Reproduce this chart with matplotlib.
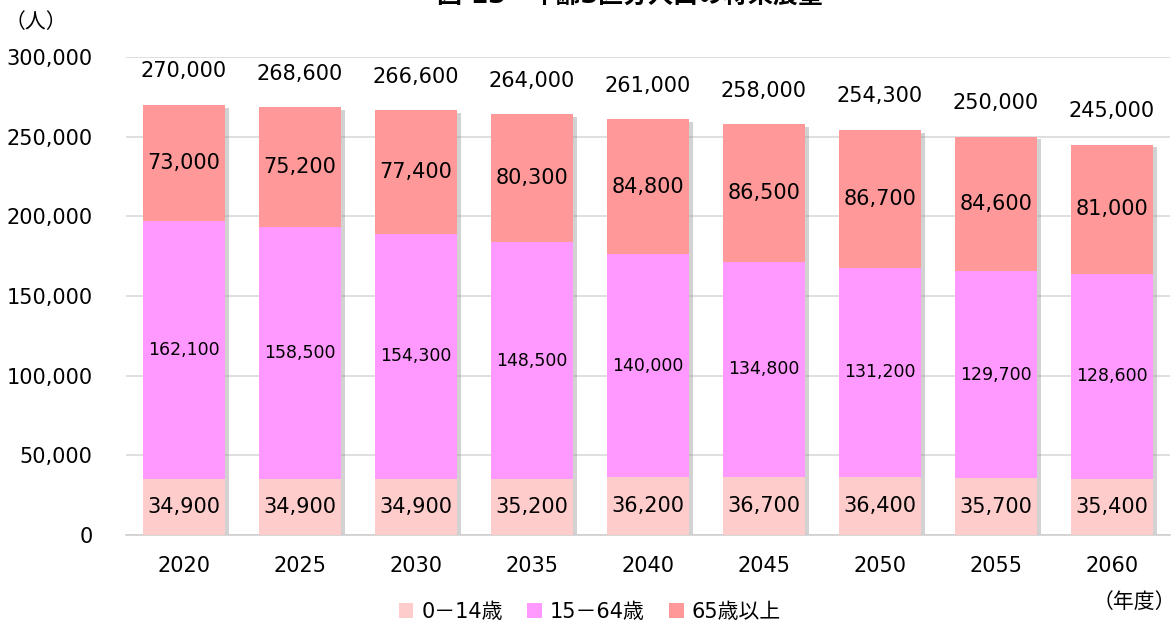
import matplotlib
matplotlib.use("Agg")
import matplotlib.pyplot as plt
import matplotlib.patheffects as pe
from matplotlib.patches import Patch
from matplotlib.ticker import FuncFormatter

plt.rcParams['font.family'] = ['DejaVu Sans', 'Noto Sans CJK JP']

years = ['2020', '2025', '2030', '2035', '2040', '2045', '2050', '2055', '2060']
age_0_14 = [34900, 34900, 34900, 35200, 36200, 36700, 36400, 35700, 35400]
age_15_64 = [162100, 158500, 154300, 148500, 140000, 134800, 131200, 129700, 128600]
age_65_plus = [73000, 75200, 77400, 80300, 84800, 86500, 86700, 84600, 81000]
totals = [270000, 268600, 266600, 264000, 261000, 258000, 254300, 250000, 245000]
series_names = ['0－14歳', '15－64歳', '65歳以上']
colors = ['#FFCCCC', '#FF99FF', '#FF9999']

fig = plt.figure(figsize=(11.74, 6.26), dpi=100)
ax = fig.add_axes([0.1073, 0.1454, 0.8893, 0.7636])

x = list(range(len(years)))
w = 0.71

# shadow bar
ax.bar(x, totals, width=w, color='white', zorder=2,
       path_effects=[pe.SimplePatchShadow(offset=(3, -2), shadow_rgbFace='#909090', alpha=0.4), pe.Normal()])

ax.bar(x, age_0_14, width=w, color=colors[0], zorder=3)
bottom2 = age_0_14
ax.bar(x, age_15_64, width=w, bottom=bottom2, color=colors[1], zorder=3)
bottom3 = [a + b for a, b in zip(age_0_14, age_15_64)]
ax.bar(x, age_65_plus, width=w, bottom=bottom3, color=colors[2], zorder=3)

for i in x:
    ax.text(i, age_0_14[i] / 2, f"{age_0_14[i]:,}", ha='center', va='center', fontsize=15, zorder=5)
    ax.text(i, bottom2[i] + age_15_64[i] / 2, f"{age_15_64[i]:,}", ha='center', va='center', fontsize=12.5, zorder=5)
    ax.text(i, bottom3[i] + age_65_plus[i] / 2, f"{age_65_plus[i]:,}", ha='center', va='center', fontsize=15, zorder=5)
    ax.annotate(f"{totals[i]:,}", (i, totals[i]), xytext=(0, 24), textcoords='offset points',
                ha='center', va='center', fontsize=15, zorder=5)

ax.set_xlim(-0.5, len(years) - 0.5)
ax.set_ylim(0, 300000)
ax.set_yticks(range(0, 300001, 50000))
ax.yaxis.set_major_formatter(FuncFormatter(lambda v, p: f"{int(v):,}"))
ax.set_xticks(x)
ax.set_xticklabels(years)
ax.tick_params(axis='both', length=0, labelsize=15)
ax.tick_params(axis='y', pad=24)
ax.tick_params(axis='x', pad=15)
ax.grid(axis='y', color='#D9D9D9', linewidth=1.2, zorder=0)
ax.set_axisbelow(True)
for s in ['top', 'right', 'left']:
    ax.spines[s].set_visible(False)
ax.spines['bottom'].set_color('#D0D0D0')
ax.spines['bottom'].set_linewidth(1.2)

fig.text(36 / 1174, 1 - 22 / 626, '（人）', ha='center', va='center', fontsize=15)
fig.text(1134 / 1174, 1 - 602 / 626, '（年度）', ha='center', va='center', fontsize=15)
fig.text(630 / 1174, 1 - 4 / 626, '図 13　年齢3区分人口の将来展望', ha='center', va='baseline',
         fontsize=18, fontweight='bold')

handles = [Patch(facecolor=c, edgecolor='none') for c in colors]
fig.legend(handles, series_names, loc='center', bbox_to_anchor=(590 / 1174, 1 - 612 / 626),
           ncol=3, frameon=False, fontsize=15, handlelength=0.7, handleheight=0.7,
           handletextpad=0.4, columnspacing=1.15)

fig.savefig('out.png', dpi=100)
